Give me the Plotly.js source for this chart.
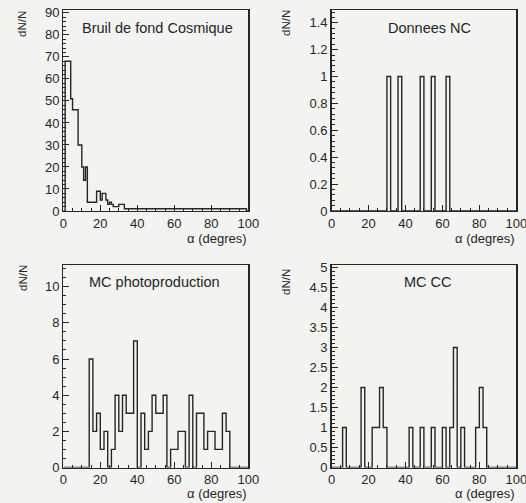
<!DOCTYPE html>
<html>
<head>
<meta charset="utf-8">
<script src="https://cdn.plot.ly/plotly-3.0.1.min.js"></script>
<style>html,body{margin:0;padding:0;background:#f3f3f1;}#chart{width:526px;height:503px;}</style>
</head>
<body>
<div id="chart"></div>
<script>
// ---------- data ----------
const panelTitles = ["Bruil de fond Cosmique", "Donnees NC", "MC photoproduction", "MC CC"];
const xTitle = "α (degres)";
const yTitle = "dN/N";
const xTickVals = [0, 20, 40, 60, 80, 100];

// Cosmic background: 100 bins of 1 degree
const binWidthCosmic = 1;
const cosmicCounts = [
  0, 68, 68, 68, 51, 46, 46, 46, 30, 30,
  20, 14, 20, 4, 4, 4, 4, 4, 9, 9,
  5, 8, 8, 5, 3, 4, 3, 2, 2, 2,
  3, 3, 3, 1, 1, 1, 1, 1, 1, 1,
  1, 1, 1, 1, 1, 1, 1, 1, 1, 1,
  1, 1, 1, 1, 1, 1, 1, 1, 1, 1,
  1, 1, 1, 1, 1, 1, 1, 1, 1, 1,
  1, 1, 1, 1, 1, 1, 1, 1, 1, 1,
  1, 1, 1, 1, 1, 1, 1, 1, 1, 1,
  1, 1, 1, 1, 1, 1, 1, 1, 1, 0
];

// NC data: 50 bins of 2 degrees
const binWidth2 = 2;
const ncCounts = [
  0,0,0,0,0, 0,0,0,0,0,
  0,0,0,0,0, 1,0,0,1,0,
  0,0,0,0,1, 0,0,1,0,0,
  0,1,0,0,0, 0,0,0,0,0,
  0,0,0,0,0, 0,0,0,0,0
];

// MC photoproduction: 50 bins of 2 degrees
const photoCounts = [
  0,0,0,0,0, 0,0,6,2,3,
  1,2,0,1,4, 2,4,3,3,7,
  0,3,1,2,4, 3,3,4,0,1,
  1,2,2,0,4, 0,3,3,1,2,
  2,1,1,3,2, 0,0,0,0,0
];

// MC CC: 50 bins of 2 degrees
const ccCounts = [
  0,0,0,1,0, 0,0,0,2,0,
  0,1,1,2,1, 0,0,0,0,0,
  0,1,0,0,1, 0,0,1,0,0,
  1,0,1,3,0, 1,0,0,0,1,
  2,1,0,0,0, 0,0,0,0,0
];

const yRanges = [[0, 91.3], [0, 1.495], [0, 11.2], [0, 5.06]];
const yDticks = [10, 0.2, 2, 0.5];
const yMinor = [2, 0.04, 0.5, 0.1];

// ---------- build ----------
const W = 526, H = 503;
const fx = p => p / W;
const fy = p => 1 - p / H;

function stepTrace(counts, w, xa, ya) {
  const xs = [0], ys = [0];
  counts.forEach((c, i) => { xs.push(i * w); ys.push(c); });
  xs.push(counts.length * w); ys.push(0);
  return {
    type: 'scatter', mode: 'lines', x: xs, y: ys,
    xaxis: xa, yaxis: ya, hoverinfo: 'skip',
    line: { shape: 'hv', color: '#262626', width: 1.4 }
  };
}

const data = [
  stepTrace(cosmicCounts, binWidthCosmic, 'x', 'y'),
  stepTrace(ncCounts, binWidth2, 'x2', 'y2'),
  stepTrace(photoCounts, binWidth2, 'x3', 'y3'),
  stepTrace(ccCounts, binWidth2, 'x4', 'y4')
];

const font = { family: 'Liberation Sans, Arial, sans-serif', size: 12, color: '#262626' };
const xDomL = [fx(63.3), fx(248.3)], xDomR = [fx(331.5), fx(516.3)];
const yDomT = [fy(211), fy(10)], yDomB = [fy(467.5), fy(265)];

function xAxis(domain, anchor) {
  return {
    domain, anchor, range: [0, 100], tickvals: xTickVals,
    ticks: 'inside', ticklen: 6, tickwidth: 1, tickcolor: '#262626',
    minor: { dtick: 5, tick0: 0, ticks: 'inside', ticklen: 3, tickcolor: '#262626', showgrid: false },
    showline: true, mirror: true, linecolor: '#262626', linewidth: 1.3,
    showgrid: false, zeroline: false, fixedrange: true,
    ticklabeloverflow: 'allow',
    tickfont: { size: 13, color: '#262626' }
  };
}
function yAxis(domain, anchor, i) {
  return {
    domain, anchor, range: yRanges[i], dtick: yDticks[i], tick0: 0,
    ticks: 'inside', ticklen: 6, tickwidth: 1, tickcolor: '#262626',
    minor: { dtick: yMinor[i], tick0: 0, ticks: 'inside', ticklen: 3, tickcolor: '#262626', showgrid: false },
    showline: true, mirror: true, linecolor: '#262626', linewidth: 1.3,
    showgrid: false, zeroline: false, fixedrange: true,
    ticklabeloverflow: 'allow',
    tickfont: { size: 13, color: '#262626' }
  };
}

const annotations = [];
// panel titles
const titlePos = [[157, 28], [429, 28], [154, 282], [428, 282]];
panelTitles.forEach((t, i) => annotations.push({
  text: t, xref: 'paper', yref: 'paper', x: fx(titlePos[i][0]), y: fy(titlePos[i][1]),
  xanchor: 'center', yanchor: 'middle', showarrow: false, font: { size: 14.5, color: '#262626' }
}));
// y titles
const yTitlePos = [[22, 9], [286, 8], [23, 263], [286, 267]];
yTitlePos.forEach(p => annotations.push({
  text: yTitle, xref: 'paper', yref: 'paper', x: fx(p[0]), y: fy(p[1]), textangle: -90,
  xanchor: 'center', yanchor: 'top', showarrow: false, font: { size: 11.5, color: '#262626' }
}));
// x titles
const xTitlePos = [[249, 239], [517, 239], [249, 493], [517, 493]];
xTitlePos.forEach(p => annotations.push({
  text: xTitle, xref: 'paper', yref: 'paper', x: fx(p[0]), y: fy(p[1]),
  xanchor: 'right', yanchor: 'middle', showarrow: false, font: { size: 13, color: '#262626' }
}));

const layout = {
  width: W, height: H, margin: { l: 0, r: 0, t: 0, b: 0 },
  paper_bgcolor: '#f3f3f1', plot_bgcolor: '#f3f3f1',
  showlegend: false, font,
  xaxis: xAxis(xDomL, 'y'), yaxis: yAxis(yDomT, 'x', 0),
  xaxis2: xAxis(xDomR, 'y2'), yaxis2: yAxis(yDomT, 'x2', 1),
  xaxis3: xAxis(xDomL, 'y3'), yaxis3: yAxis(yDomB, 'x3', 2),
  xaxis4: xAxis(xDomR, 'y4'), yaxis4: yAxis(yDomB, 'x4', 3),
  annotations
};

Plotly.newPlot('chart', data, layout, { staticPlot: true, displayModeBar: false });
</script>
</body>
</html>
